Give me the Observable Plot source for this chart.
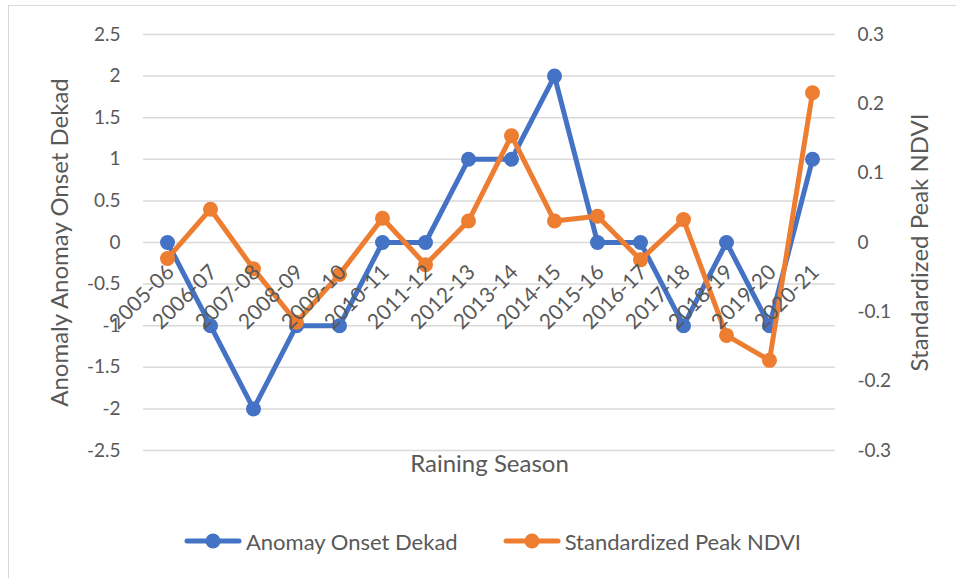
<!DOCTYPE html>
<html>
<head>
<meta charset="utf-8">
<script src="https://cdn.jsdelivr.net/npm/d3@7"></script>
<script src="https://cdn.jsdelivr.net/npm/@observablehq/plot@0.6"></script>
<style>
  html, body { margin: 0; padding: 0; background: #fff; }
  #wrap { position: relative; width: 956px; height: 578px; overflow: hidden; font-family: Lato, "Open Sans", sans-serif; }
  #frameTop { position: absolute; left: 8px; top: 5px; right: 0; height: 1px; background: #D9D9D9; }
  #frameLeft { position: absolute; left: 8px; top: 5px; bottom: 0; width: 1px; background: #D9D9D9; }
  #chart svg { display: block; }
  #legend { position: absolute; left: 0; top: 515px; width: 956px; height: 52px; display: flex; justify-content: center; align-items: center; gap: 45px; color: #595959; font-size: 22px; padding-left: 29px; box-sizing: border-box; }
  .item { display: flex; align-items: center; gap: 4px; }
</style>
</head>
<body>
<div id="wrap">
  <div id="frameTop"></div>
  <div id="frameLeft"></div>
  <div id="chart"></div>
  <div id="legend"></div>
</div>
<script>
const seasons = ["2005-06","2006-07","2007-08","2008-09","2009-10","2010-11","2011-12","2012-13","2013-14","2014-15","2015-16","2016-17","2017-18","2018-19","2019-20","2020-21"];
const onsetAnomaly = [0, -1, -2, -1, -1, 0, 0, 1, 1, 2, 0, 0, -1, 0, -1, 1];
const peakNdvi = [-0.023, 0.048, -0.038, -0.115, -0.046, 0.035, -0.032, 0.031, 0.154, 0.031, 0.038, -0.025, 0.033, -0.134, -0.170, 0.216];
const leftTicks = [-2.5, -2, -1.5, -1, -0.5, 0, 0.5, 1, 1.5, 2, 2.5];
const rightTicks = [-0.3, -0.2, -0.1, 0, 0.1, 0.2, 0.3];
const seriesNames = ["Anomay Onset Dekad", "Standardized Peak NDVI"];
const seriesColors = ["#4472C4", "#ED7D31"];
const leftTitle = "Anomaly Anomay Onset Dekad";
const rightTitle = "Standardized Peak NDVI";
const xTitle = "Raining Season";

const ratio = 0.3 / 2.5; // right axis units per left axis unit
const rows = seasons.map((s, i) => ({season: s, onset: onsetAnomaly[i], ndvi: peakNdvi[i], ndviLeft: peakNdvi[i] / ratio}));

const gray = "#595959";
const tickFont = 19;
const catFont = 21;
const titleFont = 24;

const chart = Plot.plot({
  width: 956,
  height: 515,
  marginLeft: 143,
  marginRight: 121,
  marginTop: 34,
  marginBottom: 65,
  style: {fontFamily: "Lato, 'Open Sans', sans-serif", color: gray, background: "transparent"},
  x: {type: "point", domain: seasons, padding: 0.5, axis: null},
  y: {domain: [-2.5, 2.5]},
  marks: [
    Plot.gridY(leftTicks, {stroke: "#D9D9D9", strokeOpacity: 1, strokeWidth: 1.5}),
    Plot.axisY(leftTicks, {anchor: "left", tickSize: 0, tickPadding: 23, fontSize: tickFont, fill: gray, label: null, tickFormat: d => String(d)}),
    Plot.axisY(rightTicks.map(v => v / ratio), {anchor: "right", tickSize: 0, tickPadding: 22, fontSize: tickFont, fill: gray, label: null,
      tickFormat: d => { const v = Math.round(d * ratio * 10) / 10; return v === 0 ? "0" : String(v); }}),
    Plot.line(rows, {x: "season", y: "onset", stroke: seriesColors[0], strokeWidth: 5, strokeLinejoin: "round"}),
    Plot.dot(rows, {x: "season", y: "onset", r: 7.5, fill: seriesColors[0], stroke: "none"}),
    Plot.line(rows, {x: "season", y: "ndviLeft", stroke: seriesColors[1], strokeWidth: 5, strokeLinejoin: "round"}),
    Plot.dot(rows, {x: "season", y: "ndviLeft", r: 7.5, fill: seriesColors[1], stroke: "none"}),
    Plot.text(rows, {x: "season", y: () => 0, text: "season", rotate: -45, textAnchor: "end", dx: 3, dy: 26, fontSize: catFont, fill: gray}),
    Plot.text([leftTitle], {frameAnchor: "left", text: d => d, rotate: -90, textAnchor: "middle", dx: -83, fontSize: titleFont, fill: gray}),
    Plot.text([rightTitle], {frameAnchor: "right", text: d => d, rotate: -90, textAnchor: "middle", dx: 85, fontSize: titleFont, fill: gray}),
    Plot.text([xTitle], {frameAnchor: "bottom", text: d => d, dy: 21, fontSize: titleFont, fill: gray})
  ]
});
document.getElementById("chart").appendChild(chart);

const legend = document.getElementById("legend");
seriesNames.forEach((name, i) => {
  const item = document.createElement("div");
  item.className = "item";
  item.innerHTML = `<svg width="58" height="16"><line x1="3" y1="8" x2="55" y2="8" stroke="${seriesColors[i]}" stroke-width="5" stroke-linecap="round"/><circle cx="29" cy="8" r="7.5" fill="${seriesColors[i]}"/></svg><span>${name}</span>`;
  legend.appendChild(item);
});
</script>
</body>
</html>
